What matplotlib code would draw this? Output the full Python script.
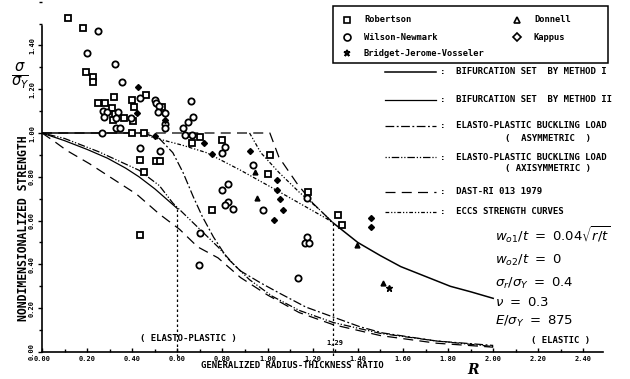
import matplotlib
matplotlib.use("Agg")
import matplotlib.pyplot as plt
import numpy as np
from matplotlib.patches import Rectangle
from matplotlib.ticker import MultipleLocator, FormatStrFormatter

# ---- curves (R, sigma/sigma_Y) ----
nan = np.nan
m1_R = [0.0, 0.45, nan, 1.29, 1.40, 1.50, 1.59, 1.70, 1.81, 1.90, 2.00]
m1_s = [1.0, 1.0, nan, 0.59, 0.50, 0.44, 0.39, 0.345, 0.30, 0.275, 0.245]

m2_R = [0.0, 0.10, 0.20, 0.29, 0.37, 0.43, 0.50, 0.55, 0.60]
m2_s = [1.0, 0.965, 0.925, 0.885, 0.84, 0.80, 0.745, 0.70, 0.655]

asym_R = [0.45, 0.52, 0.58, 0.625, 0.67, 0.71, 0.76, 0.82, 0.88, 0.97, 1.05, 1.17, 1.29, 1.41, 1.51, 1.75, 2.0]
asym_s = [1.0, 0.975, 0.91, 0.82, 0.71, 0.62, 0.525, 0.43, 0.37, 0.315, 0.27, 0.205, 0.16, 0.115, 0.087, 0.05, 0.03]

axi_R = [0.0, 0.10, 0.25, 0.43, 0.52, 0.58, 0.625, 0.70, 0.78, 0.85, 0.92, 1.02, 1.14, 1.29, 1.50, 1.75, 2.0]
axi_s = [1.0, 0.975, 0.915, 0.83, 0.76, 0.68, 0.635, 0.56, 0.48, 0.40, 0.33, 0.255, 0.19, 0.135, 0.085, 0.05, 0.025]

dast_R = [0.0, 1.01, 1.05, 1.13, 1.20, 1.26, 1.29, nan,
          0.0, 0.05, 0.11, 0.21, 0.33, 0.42, 0.52, 0.61, 0.69, 0.78, 0.88, 1.0, 1.14, 1.29, 1.50, 1.75, 2.0]
dast_s = [1.0, 1.0, 0.89, 0.77, 0.68, 0.62, 0.59, nan,
          1.0, 0.965, 0.92, 0.86, 0.78, 0.72, 0.63, 0.56, 0.48, 0.43, 0.34, 0.26, 0.18, 0.125, 0.075, 0.04, 0.022]

eccs_R = [0.45, 0.49, 0.62, 0.73, 0.88, 1.02, 1.14, 1.26, 1.29, nan, 0.92, 0.97, 1.05, 1.14, 1.23, 1.29]
eccs_s = [1.0, 0.98, 0.945, 0.91, 0.83, 0.75, 0.68, 0.61, 0.59, nan, 1.0, 0.91, 0.82, 0.73, 0.65, 0.59]

split_R = [0.6, 1.29]
split_s = [0.655, 0.59]

# ---- test results ----
rob_R = [0.115, 0.18, 0.195, 0.225, 0.225, 0.32, 0.25, 0.28, 0.31, 0.325, 0.315, 0.365, 0.405, 0.40, 0.41,
         0.46, 0.53, 0.40, 0.45, 0.70, 0.665, 0.80, 0.435, 0.45, 0.505, 0.525, 0.755, 1.01, 1.00, 1.18,
         1.31, 1.33, 0.435]
rob_s = [1.525, 1.48, 1.28, 1.255, 1.235, 1.165, 1.135, 1.135, 1.115, 1.085, 1.06, 1.07, 1.055, 1.15, 1.12,
         1.175, 1.12, 1.0, 1.0, 0.98, 0.955, 0.97, 0.875, 0.82, 0.87, 0.87, 0.65, 0.90, 0.815, 0.73,
         0.625, 0.58, 0.535]

wn_R = [0.25, 0.20, 0.325, 0.355, 0.27, 0.29, 0.335, 0.275, 0.33, 0.395, 0.33, 0.345, 0.435, 0.50, 0.505,
        0.52, 0.515, 0.545, 0.545, 0.545, 0.66, 0.645, 0.67, 0.625, 0.265, 0.635, 0.665, 0.435, 0.525,
        0.81, 0.80, 0.935, 0.80, 0.825, 0.825, 0.81, 0.845, 0.98, 1.175, 0.70, 0.695, 1.175, 1.165,
        1.185, 1.135]
wn_s = [1.465, 1.365, 1.315, 1.235, 1.10, 1.095, 1.095, 1.075, 1.07, 1.07, 1.025, 1.025, 1.16, 1.15, 1.135,
        1.125, 1.095, 1.09, 1.04, 1.025, 1.145, 1.05, 1.075, 1.025, 1.0, 0.99, 0.99, 0.93, 0.92,
        0.935, 0.91, 0.855, 0.74, 0.765, 0.685, 0.67, 0.655, 0.65, 0.705, 0.545, 0.395, 0.525, 0.50,
        0.50, 0.34]

kap_R = [0.425, 0.42, 0.545, 0.50, 0.72, 0.755, 0.92, 1.04, 1.04, 1.055, 1.07, 1.03, 1.46, 1.46]
kap_s = [1.21, 1.09, 1.06, 0.985, 0.955, 0.905, 0.92, 0.785, 0.74, 0.70, 0.65, 0.605, 0.61, 0.57]

don_R = [0.945, 0.955, 1.395, 1.51]
don_s = [0.82, 0.705, 0.49, 0.315]

bjv_R = [1.54]
bjv_s = [0.29]

xticks = [0.0, 0.2, 0.4, 0.6, 0.8, 1.0, 1.2, 1.4, 1.6, 1.8, 2.0, 2.2, 2.4]
yticks = [0.0, 0.2, 0.4, 0.6, 0.8, 1.0, 1.2, 1.4]

# line styles
st_m1 = dict(ls='-', lw=1.1)
st_m2 = dict(ls='-', lw=0.9)
st_asym = dict(ls=(0, (7, 2, 1.5, 2)), lw=0.9)
st_axi = dict(ls=(0, (1, 1.5, 1, 1.5, 6, 1.5)), lw=0.9)
st_dast = dict(ls=(0, (8, 5)), lw=0.9)
st_eccs = dict(ls=(0, (3, 1.5, 1, 1.5, 1, 1.5)), lw=0.9)

mono = 'DejaVu Sans Mono'

fig = plt.figure(figsize=(6.3, 3.79), dpi=100)
ax = fig.add_axes([42 / 630, 27 / 379, 561 / 630, 352 / 379])
ax.set_xlim(0, 561 / 225.6)
ax.set_ylim(0, 352 / 219)

ax.plot(m1_R, m1_s, color='k', **st_m1)
ax.plot(m2_R, m2_s, color='k', **st_m2)
ax.plot(asym_R, asym_s, color='k', **st_asym)
ax.plot(axi_R, axi_s, color='k', **st_axi)
ax.plot(dast_R, dast_s, color='k', **st_dast)
ax.plot(eccs_R, eccs_s, color='k', **st_eccs)
for r, s in zip(split_R, split_s):
    ax.plot([r, r], [s, -0.02], color='k', ls=(0, (2, 2)), lw=0.9, clip_on=False)

ax.plot(rob_R, rob_s, ls='none', marker='s', ms=4.5, mfc='white', mec='k', mew=1.3)
ax.plot(wn_R, wn_s, ls='none', marker='o', ms=4.5, mfc='white', mec='k', mew=1.3)
ax.plot(kap_R, kap_s, ls='none', marker='D', ms=3, mfc='k', mec='k')
ax.plot(don_R, don_s, ls='none', marker='^', ms=3.5, mfc='k', mec='k')
ax.plot(bjv_R, bjv_s, ls='none', marker='*', ms=5, mfc='k', mec='k')

for s in ['top', 'right']:
    ax.spines[s].set_visible(False)
ax.spines['left'].set_bounds(0, 1.49)
ax.spines['left'].set_linewidth(1.2)
ax.spines['bottom'].set_linewidth(1.2)
ax.set_xticks(xticks)
ax.set_yticks(yticks)
ax.xaxis.set_minor_locator(MultipleLocator(0.1))
ax.yaxis.set_minor_locator(MultipleLocator(0.1))
ax.xaxis.set_major_formatter(FormatStrFormatter('%.2f'))
ax.yaxis.set_major_formatter(FormatStrFormatter('%.2f'))
ax.tick_params(axis='x', direction='in', length=3, width=1, pad=3)
ax.tick_params(axis='x', which='minor', direction='in', length=2, width=1)
ax.tick_params(axis='y', direction='out', length=3, width=1, pad=2, labelrotation=90)
ax.tick_params(axis='y', which='minor', direction='out', length=2, width=1)
for lab in ax.get_xticklabels() + ax.get_yticklabels():
    lab.set_fontfamily(mono)
    lab.set_fontweight('bold')
    lab.set_fontsize(5)
for lab in ax.get_yticklabels():
    lab.set_va('center')
ax.patch.set_alpha(0)

# overlay in pixel coordinates for legend and notes
ov = fig.add_axes([0, 0, 1, 1])
ov.set_xlim(0, 630)
ov.set_ylim(379, 0)
ov.axis('off')
ov.patch.set_alpha(0)

ov.add_patch(Rectangle((333, 6), 275, 57, fill=False, lw=1.1, ec='k'))
box_entries = [('s', 'Robertson', 347, 20), ('o', 'Wilson-Newmark', 347, 37),
               ('*', 'Bridget-Jerome-Vosseler', 347, 53),
               ('^', 'Donnell', 517, 20), ('D', 'Kappus', 517, 37)]
for m, name, x, y in box_entries:
    ov.plot([x], [y], marker=m, ms=5 if m in 'so*' else 4.5, mfc='white', mec='k', mew=1.2, ls='none')
    ov.text(x + 17, y, name, fontfamily=mono, fontweight='bold', fontsize=6.3, va='center')

line_entries = [(st_m1, 72, 'BIFURCATION SET  BY METHOD I', None),
                (st_m2, 100, 'BIFURCATION SET  BY METHOD II', None),
                (st_asym, 126, 'ELASTO-PLASTIC BUCKLING LOAD', '(  ASYMMETRIC  )'),
                (st_axi, 157, 'ELASTO-PLASTIC BUCKLING LOAD', '( AXISYMMETRIC )'),
                (st_dast, 192, 'DAST-RI 013 1979', None),
                (st_eccs, 212, 'ECCS STRENGTH CURVES', None)]
for st, y, t1, t2 in line_entries:
    ov.plot([385, 436], [y, y], color='k', **st)
    ov.text(440, y, ':  ' + t1, fontfamily=mono, fontweight='bold', fontsize=6.5, va='center')
    if t2:
        ov.text(505, y + 12, t2, fontfamily=mono, fontweight='bold', fontsize=6.5, va='center')

params = [r'$w_{o1}/t\ =\ 0.04\sqrt{r/t}$', r'$w_{o2}/t\ =\ 0$', r'$\sigma_r/\sigma_Y\ =\ 0.4$',
          r'$\nu\ =\ 0.3$', r'$E/\sigma_Y\ =\ 875$']
for i, p in enumerate(params):
    ov.text(495, [235, 260, 283, 303, 321][i], p, fontsize=9.5, va='center', style='italic')

ov.text(188, 339, '( ELASTO-PLASTIC )', fontfamily=mono, fontweight='bold', fontsize=6.5, ha='center', va='center')
ov.text(561, 340, '( ELASTIC )', fontfamily=mono, fontweight='bold', fontsize=6.5, ha='center', va='center')
ov.text(335, 343, '1,29', fontfamily=mono, fontweight='bold', fontsize=5, ha='center', va='center')

ov.text(292, 366, 'GENERALIZED RADIUS-THICKNESS RATIO', fontfamily=mono, fontweight='bold',
        fontsize=6.5, ha='center', va='center')
ov.text(473, 370, 'R', fontfamily='DejaVu Serif', style='italic', fontweight='bold', fontsize=10,
        ha='center', va='center')
ov.text(24, 228, 'NONDIMENSIONALIZED STRENGTH', fontfamily=mono, fontweight='bold', fontsize=8.3,
        rotation=90, ha='center', va='center')
ov.text(20, 76, r'$\frac{\sigma}{\sigma_Y}$', fontsize=15, ha='center', va='center')

fig.savefig('out.png', dpi=100)
